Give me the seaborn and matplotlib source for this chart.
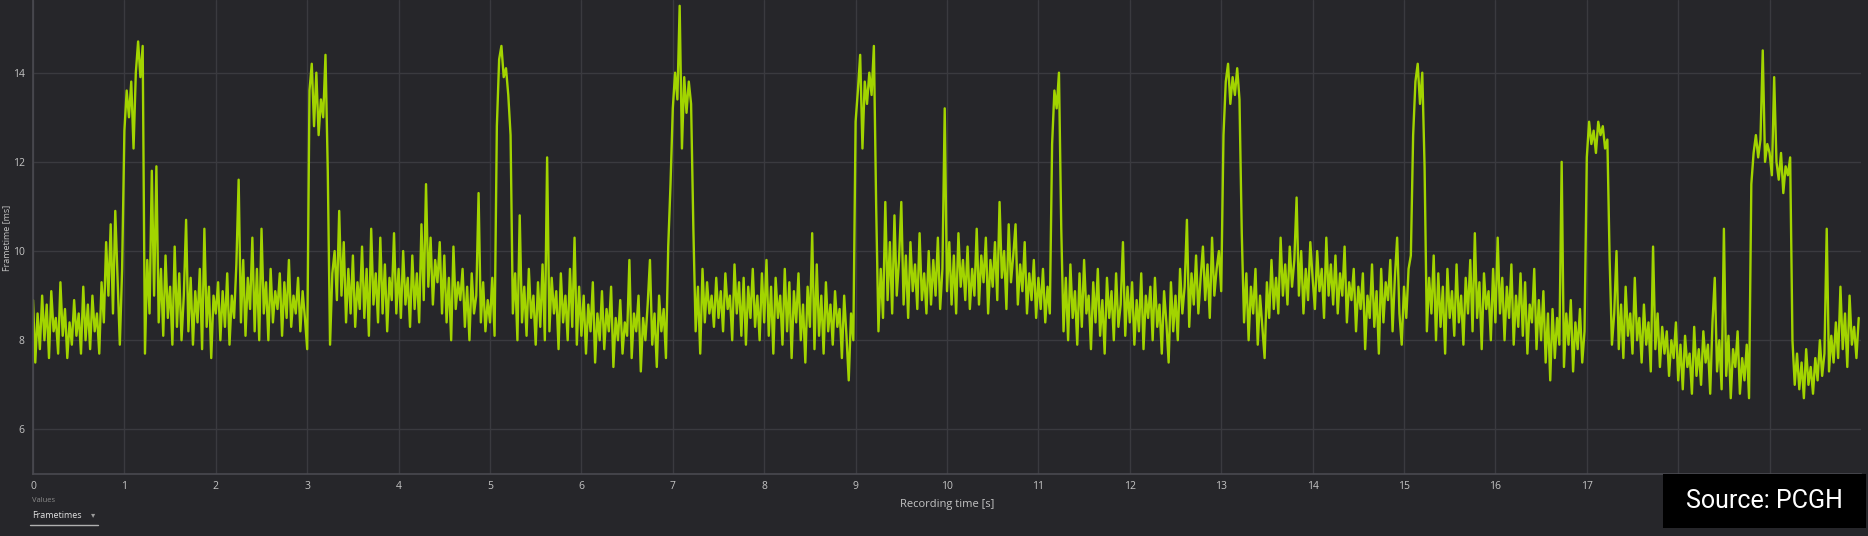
import numpy as np
import pandas as pd
import seaborn as sns
import matplotlib
matplotlib.use("Agg")
import matplotlib.pyplot as plt
from matplotlib.patches import Rectangle
from matplotlib.lines import Line2D

sample_step = 0.025
frametimes_ms = [
    8.9, 7.5, 8.6, 7.8, 9.0, 8.0, 8.8, 7.6, 9.1, 8.2, 8.5, 7.7, 9.3, 8.1, 8.7, 7.6, 8.4, 7.9, 8.9, 8.1,
    8.6, 7.7, 9.2, 8.0, 8.8, 7.8, 9.0, 8.2, 8.6, 7.7, 9.3, 8.4, 10.2, 9.0, 10.6, 8.6, 10.9, 9.4, 7.9, 9.6,
    12.7, 13.6, 13.0, 13.8, 12.3, 14.0, 14.7, 13.9, 14.6, 7.7, 9.8, 8.6, 11.8, 9.0, 11.9, 8.4, 9.6, 8.1, 9.9, 8.5,
    9.2, 7.9, 10.1, 8.3, 9.5, 8.0, 9.0, 10.7, 8.2, 9.4, 7.9, 9.1, 8.4, 9.6, 7.8, 10.5, 8.3, 9.2, 7.6, 9.0,
    8.6, 9.3, 8.0, 9.1, 8.3, 9.5, 7.9, 9.0, 8.5, 9.7, 11.6, 8.4, 9.8, 8.1, 9.4, 8.7, 10.3, 8.2, 9.6, 8.0,
    10.5, 8.6, 9.3, 8.0, 9.6, 8.4, 9.1, 8.7, 9.5, 8.1, 9.3, 8.5, 9.8, 8.3, 9.0, 8.6, 9.4, 8.2, 9.1, 8.5,
    7.8, 13.6, 14.2, 12.8, 14.0, 12.6, 13.4, 13.0, 14.4, 11.8, 7.9, 9.5, 10.0, 8.9, 10.9, 9.0, 10.2, 8.4, 9.6, 8.6,
    9.9, 8.3, 9.3, 8.7, 10.1, 8.5, 9.6, 8.1, 10.5, 8.8, 9.5, 8.4, 10.3, 8.6, 9.7, 8.2, 9.4, 8.9, 10.4, 8.6,
    9.6, 8.5, 10.0, 8.8, 9.4, 8.3, 9.9, 8.7, 9.5, 8.4, 10.6, 8.9, 11.5, 9.2, 10.3, 8.8, 9.8, 9.3, 10.2, 8.6,
    9.9, 8.4, 9.4, 8.0, 10.1, 8.7, 9.3, 8.9, 9.6, 8.3, 9.2, 8.0, 9.5, 8.6, 9.0, 11.3, 8.4, 9.3, 8.2, 8.9,
    8.4, 9.4, 8.1, 12.8, 14.3, 14.6, 13.9, 14.1, 13.5, 12.6, 8.6, 9.5, 8.0, 10.8, 8.4, 9.2, 8.1, 9.6, 8.5, 9.0,
    7.9, 9.3, 8.3, 9.7, 8.0, 12.1, 8.2, 9.4, 8.6, 9.1, 7.8, 9.5, 8.4, 9.0, 8.0, 9.6, 8.3, 10.3, 7.9, 9.2,
    8.1, 9.0, 7.7, 8.8, 8.2, 9.3, 7.5, 8.6, 8.0, 9.1, 7.8, 8.7, 8.2, 9.2, 7.4, 8.5, 8.0, 8.9, 7.7, 8.4,
    8.1, 9.8, 7.6, 8.6, 8.2, 9.0, 7.3, 8.5, 8.0, 8.8, 9.8, 7.9, 8.6, 7.4, 9.0, 8.2, 8.7, 7.6, 10.1, 11.5,
    13.2, 14.0, 13.4, 15.5, 12.3, 13.9, 13.1, 13.8, 13.3, 10.5, 8.2, 9.2, 7.7, 9.6, 8.4, 9.3, 8.6, 9.0, 8.3, 9.4,
    8.5, 9.1, 8.2, 9.5, 8.7, 9.0, 8.0, 9.7, 8.6, 9.3, 8.1, 9.4, 7.9, 9.2, 8.5, 9.6, 8.3, 9.0, 8.0, 9.5,
    8.4, 9.8, 8.1, 9.2, 7.7, 9.4, 8.5, 9.0, 7.9, 9.6, 8.2, 9.3, 7.6, 9.1, 8.4, 9.5, 8.0, 8.8, 7.5, 9.2,
    8.3, 10.4, 7.8, 9.7, 8.1, 9.0, 7.7, 9.3, 8.2, 8.8, 7.9, 9.1, 8.3, 8.7, 7.6, 9.0, 8.1, 7.1, 8.6, 8.0,
    12.9, 13.6, 14.4, 12.3, 13.8, 13.3, 14.0, 13.5, 14.6, 11.0, 8.2, 9.6, 8.5, 11.1, 8.9, 10.2, 8.6, 10.8, 9.0, 9.8,
    11.1, 8.8, 9.9, 8.5, 10.2, 9.1, 9.7, 8.7, 10.4, 8.9, 9.5, 8.6, 10.0, 8.8, 9.8, 9.0, 10.3, 8.7, 9.6, 13.2,
    9.1, 10.2, 8.8, 9.9, 8.6, 10.4, 9.2, 9.8, 8.9, 10.1, 8.7, 9.6, 9.0, 10.5, 8.8, 9.9, 9.3, 10.3, 8.6, 9.8,
    9.2, 10.2, 8.9, 11.1, 9.4, 10.0, 8.7, 10.6, 9.3, 9.9, 10.6, 8.8, 9.7, 9.1, 10.2, 8.6, 9.5, 8.9, 9.8, 8.5,
    9.4, 8.7, 9.6, 8.4, 9.2, 8.6, 12.4, 13.6, 13.2, 14.0, 10.5, 8.2, 9.4, 8.0, 9.7, 8.5, 9.1, 7.9, 9.5, 8.3,
    9.8, 8.6, 9.0, 7.8, 9.3, 8.4, 9.6, 8.1, 8.9, 7.7, 9.4, 8.5, 9.1, 8.0, 9.5, 8.3, 8.8, 10.2, 8.1, 9.2,
    8.4, 9.3, 7.9, 8.9, 8.2, 9.5, 7.8, 9.0, 8.5, 9.2, 8.0, 9.4, 8.3, 8.8, 7.7, 9.1, 8.4, 7.5, 9.3, 8.2,
    9.0, 8.0, 9.6, 8.6, 9.2, 10.7, 8.3, 9.5, 8.8, 9.9, 8.6, 9.4, 10.1, 8.9, 9.7, 8.5, 10.3, 9.0, 9.6, 10.0,
    9.1, 12.6, 13.8, 14.2, 13.3, 13.9, 13.5, 14.1, 13.4, 10.4, 8.4, 9.5, 8.0, 9.2, 8.6, 9.6, 7.9, 9.0, 8.3, 7.6,
    9.3, 8.5, 9.8, 8.7, 9.4, 8.6, 10.3, 9.0, 9.7, 8.8, 10.1, 9.2, 9.8, 11.2, 9.0, 10.0, 8.6, 9.6, 8.9, 10.2,
    9.4, 8.7, 10.0, 9.1, 9.6, 8.5, 10.3, 9.0, 9.7, 8.8, 9.9, 8.6, 9.5, 9.0, 10.1, 8.4, 9.3, 8.9, 9.6, 8.2,
    9.2, 8.7, 9.5, 7.8, 9.0, 8.5, 9.7, 8.3, 9.1, 7.7, 9.6, 8.4, 9.3, 8.9, 9.8, 8.2, 9.4, 10.3, 8.6, 7.9,
    9.2, 8.5, 9.6, 9.9, 12.6, 13.8, 14.2, 13.3, 14.0, 11.9, 8.2, 9.4, 8.6, 9.9, 8.0, 9.5, 8.3, 9.2, 7.7, 9.6,
    8.5, 9.1, 8.1, 9.7, 8.4, 9.0, 7.9, 9.4, 8.6, 9.8, 8.2, 10.4, 8.5, 9.3, 7.8, 9.5, 8.7, 9.1, 8.0, 9.6,
    8.4, 10.3, 8.6, 9.4, 8.0, 9.2, 8.5, 9.7, 7.9, 9.0, 8.3, 9.5, 8.1, 9.3, 7.7, 8.8, 8.4, 9.6, 7.8, 8.9,
    8.0, 9.1, 7.5, 8.6, 7.1, 8.7, 7.6, 8.5, 7.9, 12.0, 7.4, 8.6, 7.9, 8.9, 7.3, 8.4, 7.8, 8.7, 7.5, 8.2,
    12.1, 12.9, 12.4, 12.7, 12.2, 12.9, 12.6, 12.8, 12.3, 12.5, 9.8, 7.9, 8.6, 10.0, 7.8, 8.8, 7.6, 9.2, 8.1, 8.6,
    7.7, 9.4, 8.0, 8.5, 7.5, 8.8, 7.9, 8.4, 7.3, 10.1, 7.8, 8.6, 7.4, 8.3, 7.7, 8.2, 7.2, 8.0, 7.6, 8.4,
    7.1, 7.9, 6.9, 8.1, 7.4, 7.7, 6.8, 8.3, 7.2, 7.8, 7.0, 8.2, 7.5, 7.9, 6.8, 8.4, 9.4, 7.3, 8.0, 6.9,
    10.5, 7.2, 8.1, 6.7, 7.8, 7.4, 8.2, 6.8, 7.6, 7.1, 7.9, 6.7, 11.5, 12.2, 12.6, 12.1, 12.5, 14.5, 12.0, 12.4,
    12.2, 11.7, 13.9, 12.0, 11.6, 12.2, 11.3, 11.9, 11.7, 12.1, 8.0, 7.0, 7.7, 6.9, 7.5, 6.7, 7.8, 7.0, 7.4, 6.8,
    7.6, 7.1, 8.0, 7.2, 7.7, 10.5, 7.3, 8.1, 7.5, 8.4, 7.6, 9.2, 7.8, 8.6, 7.4, 9.0, 7.9, 8.3, 7.6, 8.5,
]
x_ticks = list(range(0, 20))
y_ticks = [6, 8, 10, 12, 14]

BG = "#26262a"
GRID = "#3a3a3f"
LINE = "#a2d400"
TXT = "#c4c4c4"

df = pd.DataFrame({
    "time": np.arange(len(frametimes_ms)) * sample_step,
    "frametime": frametimes_ms,
})

sns.set_style("dark", {"axes.facecolor": BG, "figure.facecolor": BG})
plt.rcParams["font.family"] = ["Open Sans", "DejaVu Sans"]

W, H = 1868, 536
fig = plt.figure(figsize=(W / 100, H / 100), dpi=100, facecolor=BG)
ax = fig.add_axes([33 / W, 1 - 474 / H, (1861 - 33) / W, 474 / H])
ax.set_facecolor(BG)

sns.lineplot(data=df, x="time", y="frametime", ax=ax, color=LINE,
             linewidth=1.7, estimator=None, sort=False)

ax.set_xlim(0, 20)
ax.set_ylim(5.0, 15.63)
ax.set_xticks(x_ticks)
ax.set_yticks(y_ticks)
ax.grid(True, color=GRID, linewidth=1)
ax.tick_params(colors=TXT, labelsize=7.5, length=0)
ax.tick_params(axis="x", pad=5)
ax.tick_params(axis="y", pad=6)
ax.set_xlabel("")
ax.set_ylabel("")
for side in ["top", "right"]:
    ax.spines[side].set_visible(False)
for side in ["left", "bottom"]:
    ax.spines[side].set_visible(True)
    ax.spines[side].set_color("#4a4a50")
    ax.spines[side].set_linewidth(1.2)

fig.text(7 / W, 1 - 238 / H, "Frametime [ms]", rotation=90, ha="center",
         va="center", fontsize=6.5, color=TXT)
fig.text(947 / W, 1 - 505 / H, "Recording time [s]", ha="center", va="center",
         fontsize=8, color=TXT)

# little "Values" selector under the axis
fig.text(32 / W, 1 - 500 / H, "Values", ha="left", va="center", fontsize=5.5, color="#8a8a8a")
fig.text(32 / W, 1 - 516 / H, "Frametimes", ha="left", va="center", fontsize=6.5, color="#e2e2e2")
fig.text(93 / W, 1 - 516 / H, "▾", ha="center", va="center", fontsize=6, color="#9a9a9a")
fig.add_artist(Line2D([30 / W, 98 / W], [1 - 525 / H, 1 - 525 / H],
                      transform=fig.transFigure, color="#b0b0b0", linewidth=1))

# source badge
fig.add_artist(Rectangle((1663 / W, 1 - 528 / H), (1866 - 1663) / W, (528 - 474) / H,
                         transform=fig.transFigure, facecolor="black", edgecolor="none", zorder=10))
fig.text(1764 / W, 1 - 501 / H, "Source: PCGH", ha="center", va="center",
         fontsize=18, color="white", family=["Roboto", "DejaVu Sans"], zorder=11)

fig.savefig("out.png", dpi=100, facecolor=BG)
